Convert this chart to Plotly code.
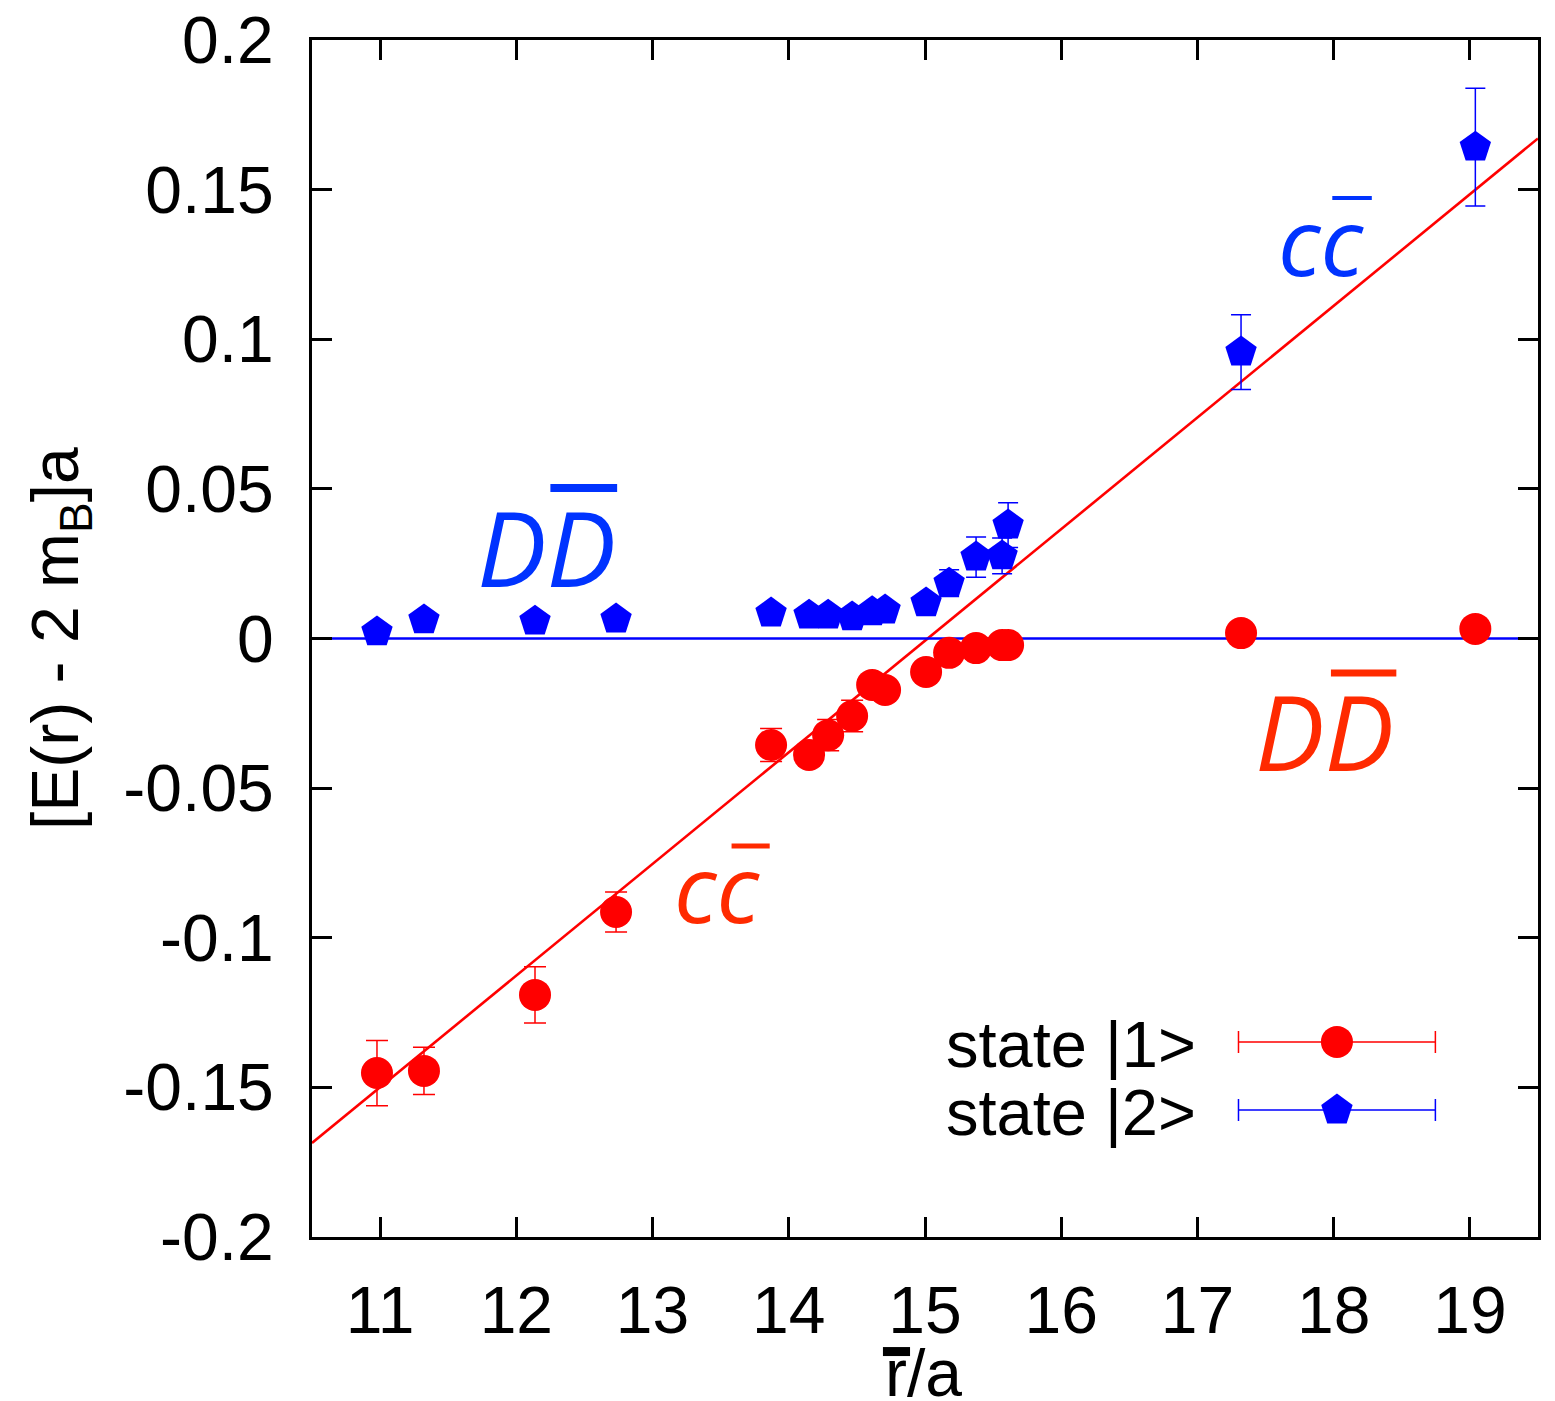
import plotly.graph_objects as go

# ---------------- data ----------------
r_state1 = [10.977, 11.322, 12.137, 12.732, 13.870, 14.149, 14.289, 14.465, 14.612, 14.707,
            15.008, 15.177, 15.375, 15.566, 15.610, 17.32, 19.04]
e_state1 = [-0.1452, -0.1445, -0.1191, -0.0914, -0.0356, -0.0389, -0.0323, -0.0259, -0.0155, -0.0172,
            -0.0112, -0.0048, -0.0032, -0.0022, -0.0022, 0.0018, 0.0032]
err_state1 = [0.0109, 0.0079, 0.0094, 0.0067, 0.0055, 0.003, 0.0052, 0.0053, 0.003, 0.003,
              0.002, 0.002, 0.002, 0.002, 0.002, 0.002, 0.002]

r_state2 = [10.977, 11.322, 12.137, 12.732, 13.870, 14.149, 14.289, 14.465, 14.612, 14.707,
            15.008, 15.177, 15.375, 15.566, 15.610, 17.32, 19.04]
e_state2 = [0.0022, 0.0062, 0.0058, 0.0065, 0.0085, 0.0078, 0.0078, 0.0072, 0.0089, 0.0095,
            0.0119, 0.0185, 0.0272, 0.0276, 0.0379, 0.0957, 0.1642]
err_state2 = [0.002, 0.002, 0.002, 0.002, 0.002, 0.002, 0.002, 0.002, 0.002, 0.002,
              0.002, 0.0045, 0.0067, 0.006, 0.0075, 0.0125, 0.0197]

# linear fit (string-breaking line) parameters
fit_slope = 0.0373
fit_x0 = 15.02

x_range = [10.5, 19.5]
y_range = [-0.2, 0.2]
x_ticks = [11, 12, 13, 14, 15, 16, 17, 18, 19]
x_ticktext = ["11", "12", "13", "14", "15", "16", "17", "18", "19"]
y_ticks = [-0.2, -0.15, -0.1, -0.05, 0, 0.05, 0.1, 0.15, 0.2]
y_ticktext = ["-0.2", "-0.15", "-0.1", "-0.05", "0", "0.05", "0.1", "0.15", "0.2"]

legend_labels = ["state |1>", "state |2>"]

RED = "#ff0000"
BLUE = "#0000ff"
TXT_BLUE = "#0033ff"
TXT_RED = "#ff2a00"
FONT = "Liberation Sans, Arial, sans-serif"
AFONT = "Open Sans, Noto Sans, sans-serif"

fig = go.Figure()

# fit line
fit_x = list(x_range)
fit_y = [fit_slope * (xv - fit_x0) for xv in fit_x]
fig.add_trace(go.Scatter(x=fit_x, y=fit_y, mode="lines",
                         line=dict(color=RED, width=2.6), showlegend=False, hoverinfo="skip"))
# threshold line
fig.add_trace(go.Scatter(x=fit_x, y=[0, 0], mode="lines",
                         line=dict(color=BLUE, width=2.6), showlegend=False, hoverinfo="skip"))

fig.add_trace(go.Scatter(
    x=r_state1, y=e_state1, mode="markers", name=legend_labels[0],
    marker=dict(symbol="circle", size=32, color=RED, line=dict(width=0)),
    error_y=dict(type="data", array=err_state1, visible=True, color=RED, thickness=1.5, width=11),
    showlegend=False))
fig.add_trace(go.Scatter(
    x=r_state2, y=e_state2, mode="markers", name=legend_labels[1],
    marker=dict(symbol="pentagon", size=33, color=BLUE, line=dict(width=0)),
    error_y=dict(type="data", array=err_state2, visible=True, color=BLUE, thickness=1.5, width=10),
    showlegend=False))

# custom legend samples on overlay axes (paper-like 0..1)
fig.add_trace(go.Scatter(
    x=[0.836], y=[0.163], xaxis="x2", yaxis="y2", mode="markers",
    marker=dict(symbol="circle", size=32, color=RED),
    error_x=dict(type="data", array=[0.0803], color=RED, thickness=1.5, width=11),
    showlegend=False, hoverinfo="skip"))
fig.add_trace(go.Scatter(
    x=[0.836], y=[0.106], xaxis="x2", yaxis="y2", mode="markers",
    marker=dict(symbol="pentagon", size=33, color=BLUE),
    error_x=dict(type="data", array=[0.0803], color=BLUE, thickness=1.5, width=11),
    showlegend=False, hoverinfo="skip"))

axis_common = dict(
    showline=True, linecolor="black", linewidth=3, mirror="ticks",
    ticks="inside", ticklen=20, tickwidth=3, tickcolor="black",
    showgrid=False, zeroline=False, automargin=False,
    ticklabeloverflow="allow",
    tickfont=dict(family=FONT, size=66, color="black"),
)

# page body adds an 8px offset; compensate in the margins
fig.update_layout(
    width=1555, height=1401,
    margin=dict(l=304, r=25, t=32, b=172),
    paper_bgcolor="white", plot_bgcolor="white",
    showlegend=False,
    xaxis=dict(range=x_range, tickvals=x_ticks, ticktext=x_ticktext,
               ticklabelstandoff=14, **axis_common),
    yaxis=dict(range=y_range, tickvals=y_ticks, ticktext=y_ticktext,
               ticklabelstandoff=22, **axis_common),
    xaxis2=dict(range=[0, 1], overlaying="x", visible=False, automargin=False),
    yaxis2=dict(range=[0, 1], overlaying="y", visible=False, automargin=False),
)

annotations = [
    # axis titles
    dict(text="r/a", xref="paper", yref="paper", x=0.4657, y=-0.1140, xanchor="left", yanchor="middle",
         showarrow=False, font=dict(family=FONT, size=66, color="black")),
    dict(text="[E(r) - 2 m<sub>B</sub>]a", xref="paper", yref="paper", x=-0.2055, y=0.4996,
         xanchor="center", yanchor="middle", textangle=-90,
         showarrow=False, font=dict(family=FONT, size=66, color="black")),
    # legend labels
    dict(text=legend_labels[0], xref="paper", yref="paper", x=0.7227, y=0.161, xanchor="right", yanchor="middle",
         showarrow=False, font=dict(family=FONT, size=65, color="black")),
    dict(text=legend_labels[1], xref="paper", yref="paper", x=0.7227, y=0.104, xanchor="right", yanchor="middle",
         showarrow=False, font=dict(family=FONT, size=65, color="black")),
    # in-plot labels
    dict(text="<i>DD</i>", x=12.22, y=0.0309, xanchor="center", yanchor="middle",
         showarrow=False, font=dict(family=AFONT, size=104, color=TXT_BLUE)),
    dict(text="<i>cc</i>", x=17.91, y=0.1332, xanchor="center", yanchor="middle",
         showarrow=False, font=dict(family=AFONT, size=94, color=TXT_BLUE)),
    dict(text="<i>DD</i>", x=17.93, y=-0.0309, xanchor="center", yanchor="middle",
         showarrow=False, font=dict(family=AFONT, size=104, color=TXT_RED)),
    dict(text="<i>cc</i>", x=13.48, y=-0.083, xanchor="center", yanchor="middle",
         showarrow=False, font=dict(family=AFONT, size=94, color=TXT_RED)),
]
fig.update_layout(annotations=annotations)

shapes = [
    # overline bars on the labels
    dict(type="line", x0=12.25, x1=12.74, y0=0.0503, y1=0.0503, line=dict(color=TXT_BLUE, width=8)),
    dict(type="line", x0=17.99, x1=18.28, y0=0.1472, y1=0.1472, line=dict(color=TXT_BLUE, width=4)),
    dict(type="line", x0=17.98, x1=18.46, y0=-0.0115, y1=-0.0115, line=dict(color=TXT_RED, width=7)),
    dict(type="line", x0=13.58, x1=13.86, y0=-0.0693, y1=-0.0693, line=dict(color=TXT_RED, width=5)),
    # bar over r in the x title
    dict(type="line", xref="paper", yref="paper", x0=0.4657, x1=0.4878, y0=-0.0957, y1=-0.0957,
         line=dict(color="black", width=9)),
]
fig.update_layout(shapes=shapes)

fig.write_html("out.html")
